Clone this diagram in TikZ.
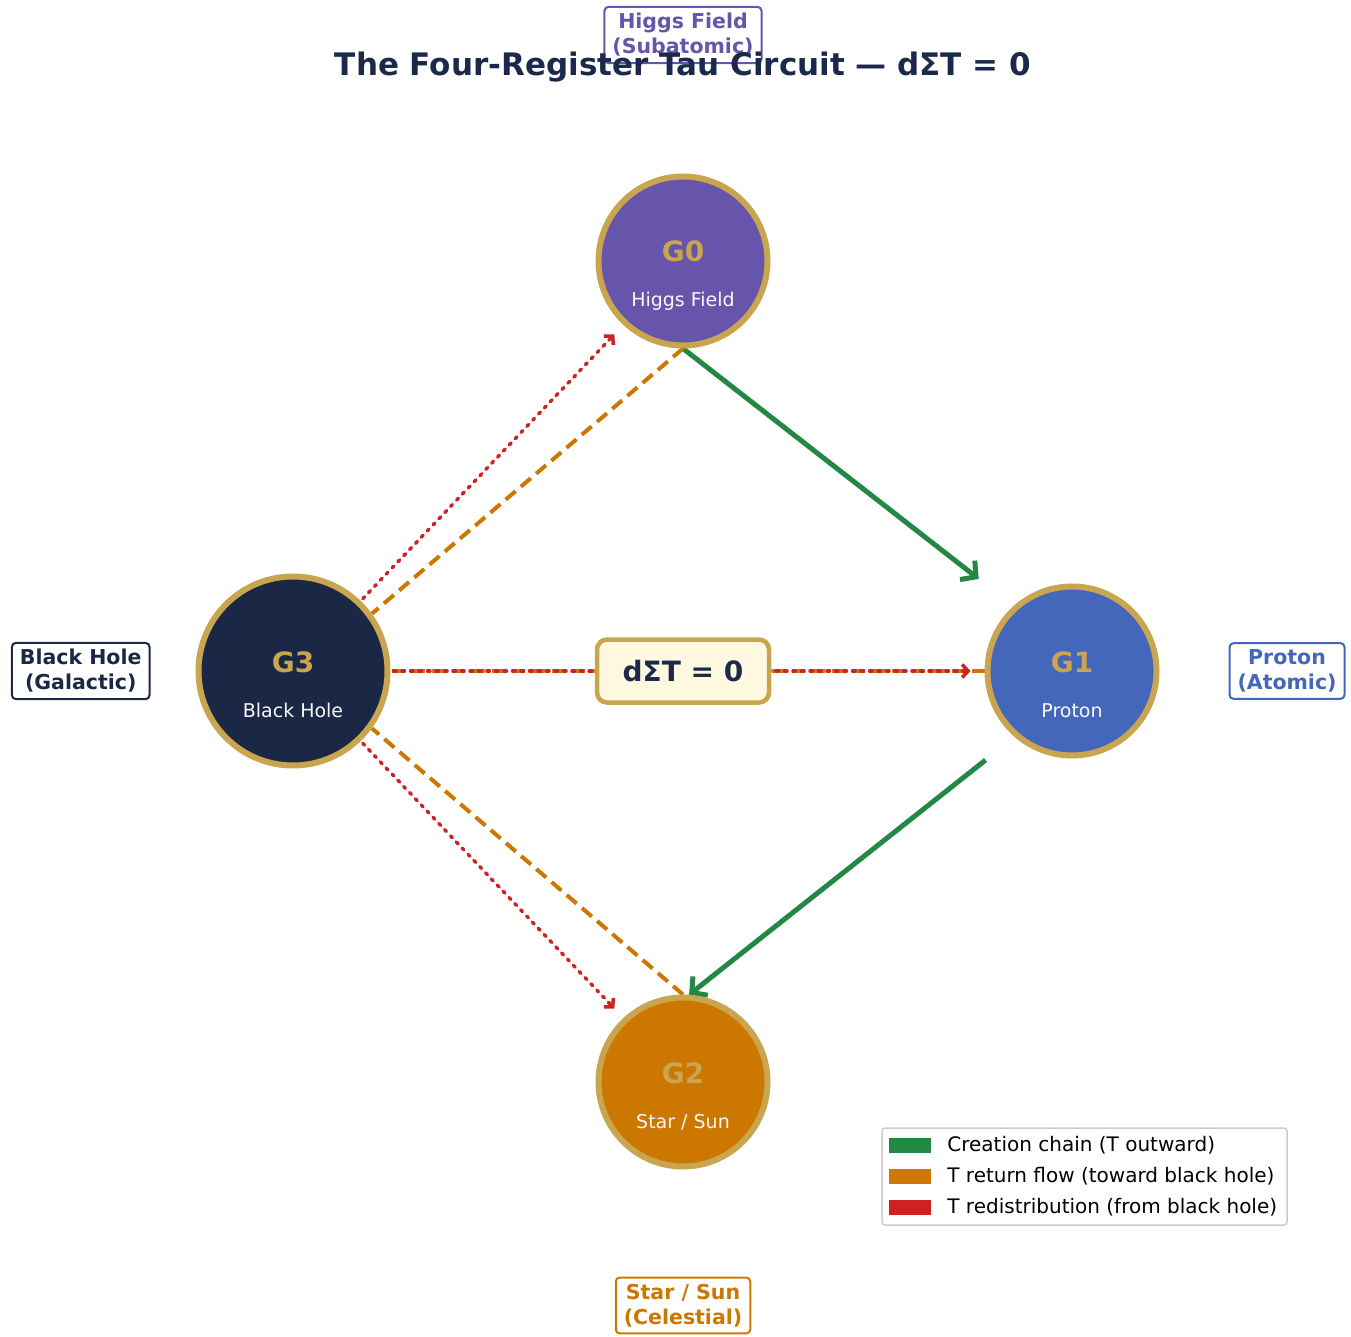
\documentclass[tikz,border=0pt]{standalone}
\usepackage{fontspec}
\setmainfont{DejaVu Sans}
\usepackage{xcolor}
\usetikzlibrary{arrows.meta,positioning,calc,backgrounds}

\definecolor{navy}{HTML}{1B2845}
\definecolor{titlenavy}{HTML}{1B2A4A}
\definecolor{higgspurple}{HTML}{6655AA}
\definecolor{protonblue}{HTML}{4466BB}
\definecolor{starorange}{HTML}{CC7700}
\definecolor{flowgreen}{HTML}{228844}
\definecolor{flowred}{HTML}{CC2222}
\definecolor{gold}{HTML}{C8A54E}
\definecolor{cream}{HTML}{FFF8E1}

\begin{document}
\begin{tikzpicture}[
    x=1pt, y=-1pt,
    reg/.style={circle, draw=gold, line width=6pt, minimum size=#1, inner sep=0pt},
    regid/.style={anchor=base, text=gold, font=\bfseries\fontsize{28pt}{32pt}\selectfont},
    regname/.style={anchor=base, text=white!94!gray, font=\fontsize{19pt}{22pt}\selectfont},
    tag/.style={draw=#1, text=#1, fill=white, rounded corners=4pt, line width=2pt, align=center,
        inner xsep=8pt, inner ysep=6.5pt, font=\bfseries\fontsize{20.5pt}{25pt}\selectfont},
    sumbox/.style={draw=gold, fill=cream, line width=4.5pt, rounded corners=10pt,
        minimum width=172pt, minimum height=63pt, text=titlenavy, font=\bfseries\fontsize{28pt}{32pt}\selectfont},
    creation/.style={draw=flowgreen, line width=5pt, -{Straight Barb[length=11pt, width=24pt]}},
    returnflow/.style={draw=starorange, line width=4pt, dash pattern=on 13pt off 7pt},
    redist/.style={draw=flowred, line width=3.5pt, line cap=round, dash pattern=on 2.5pt off 6pt,
        -{Straight Barb[length=6pt, width=13pt]}},
    patch/.style={minimum width=42pt, minimum height=15pt, inner sep=0pt},
    legtext/.style={inner sep=0pt, anchor=west, font=\fontsize{20pt}{24pt}\selectfont}
]
\useasboundingbox (0,0) rectangle (1351,1337);

% registers
\node[reg=169pt, fill=higgspurple] (g0) at (683,261) {};
\node[reg=169pt, fill=protonblue] (g1) at (1072,671) {};
\node[reg=169pt, fill=starorange] (g2) at (683,1082) {};
\node[reg=189pt, fill=navy] (g3) at (293,671) {};

\node[regid] (g0id) at ([yshift=-1pt]g0.center) {G0};
\node[regname] (g0name) at ([yshift=-46pt]g0.center) {Higgs Field};
\node[regid] (g1id) at ([yshift=-1pt]g1.center) {G1};
\node[regname] (g1name) at ([yshift=-46pt]g1.center) {Proton};
\node[regid] (g2id) at ([yshift=-1pt]g2.center) {G2};
\node[regname] (g2name) at ([yshift=-46pt]g2.center) {Star / Sun};
\node[regid] (g3id) at ([yshift=-1pt]g3.center) {G3};
\node[regname] (g3name) at ([yshift=-46pt]g3.center) {Black Hole};

\node[sumbox] (sum) at (683,671) {dΣT = 0};

% scale labels
\node[tag=higgspurple] (higgs) at (683,35) {Higgs Field\\(Subatomic)};
\node[tag=navy, left=45pt of g3] (bh) {Black Hole\\(Galactic)};
\node[tag=protonblue, right=69pt of g1] (proton) {Proton\\(Atomic)};
\node[tag=starorange, below=107pt of g2] (star) {Star / Sun\\(Celestial)};

\node[anchor=base, text=titlenavy, font=\bfseries\fontsize{31pt}{36pt}\selectfont] (title) at (683,76)
    {The Four-Register Tau Circuit — dΣT = 0};

% flows
\begin{scope}[on background layer]
\draw[creation, shorten >=44pt] (g0.south) -- (g1.132);
\draw[creation, shorten <=37pt] (g1.229) -- (g2.86);
\draw[returnflow] (g0.south) -- (g3.36);
\draw[returnflow] (g2.north) -- (g3.-36);
\draw[returnflow] (g1.west) -- (g3.east);
\draw[redist, shorten <=3pt, shorten >=13pt] (g3.46) -- (g0.227);
\draw[redist, shorten <=3pt, shorten >=13pt] (g3.-46) -- (g2.133);
\draw[redist, shorten <=3pt, shorten >=14pt] (g3.east) -- (g1.west);
\end{scope}

% legend
\node[draw=black!20, line width=1.5pt, rounded corners=3pt, fill=white, minimum width=405pt, minimum height=97pt] (legend) at (1084.5,1176.5) {};
\node[patch, fill=flowgreen] (lg1) at (910,1145) {};
\node[patch, fill=starorange] (lg2) at (910,1176) {};
\node[patch, fill=flowred] (lg3) at (910,1207) {};
\node[legtext, right=16pt of lg1] (lt1) {Creation chain (T outward)};
\node[legtext, right=16pt of lg2] (lt2) {T return flow (toward black hole)};
\node[legtext, right=16pt of lg3] (lt3) {T redistribution (from black hole)};

\end{tikzpicture}
\end{document}
